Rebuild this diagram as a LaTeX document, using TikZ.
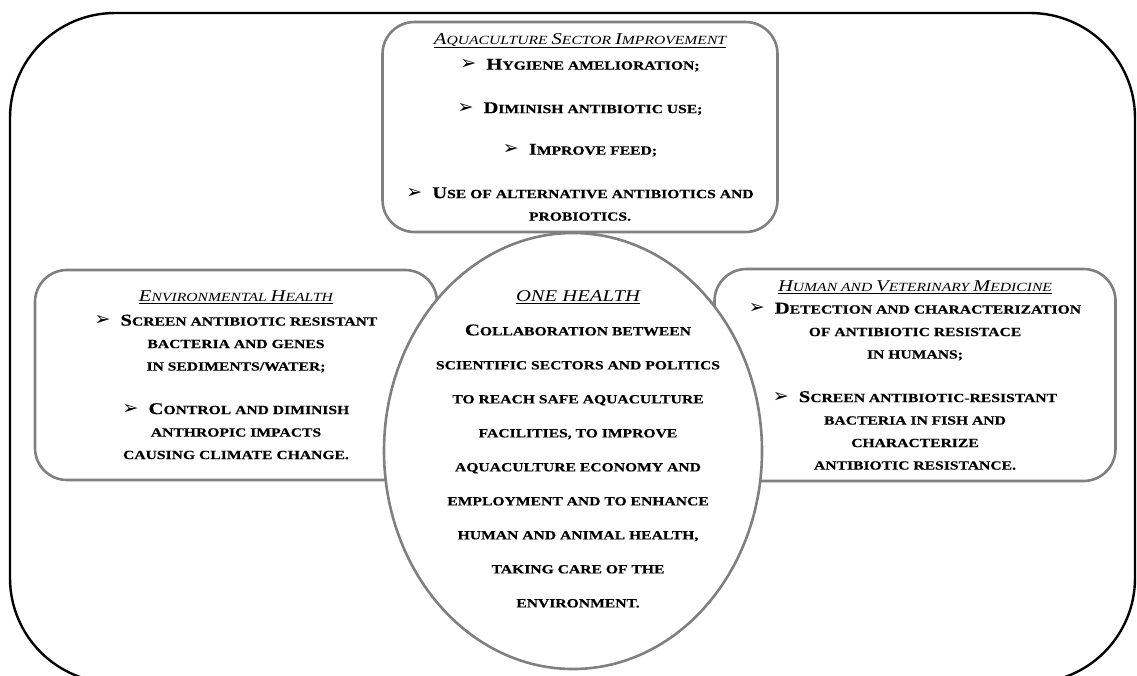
\documentclass[tikz,border=0pt]{standalone}
\usepackage{fontspec}
\setmainfont{Liberation Serif}[FakeStretch=1.25, BoldFeatures={FakeBold=0.4}]
\newfontfamily\dingfont{DejaVu Sans}
\usetikzlibrary{shapes.geometric}
\definecolor{panelgray}{RGB}{128,128,128}
\newcommand\capinit[1]{{\fontsize{16.5}{16.5}\selectfont #1}}
\newcommand\itemarrow{\smash{\dingfont\fontsize{19}{19}\selectfont ➢}\hspace{10pt}}
\newcommand\paneltitle[1]{\underline{\normalfont\itshape #1}}

\begin{document}
\begin{tikzpicture}[
  x=1pt, y=-1pt,
  panel/.style={
    draw=panelgray,
    line width=2.6pt,
    rounded corners=32pt,
    fill=white,
    align=center,
    inner sep=0pt,
    font=\fontsize{12.5}{22.5}\selectfont\bfseries
  },
  hub/.style={
    ellipse,
    draw=panelgray,
    line width=2.6pt,
    fill=white,
    inner sep=0pt
  },
  hubtext/.style={
    align=center,
    inner sep=0pt,
    font=\fontsize{12.5}{22.5}\selectfont\bfseries
  }
]
\useasboundingbox (0,0) rectangle (1137,675);
\draw[line width=2.4pt, rounded corners=105pt] (10,13) rectangle (1135,683);

\node[panel, minimum width=402pt, minimum height=210pt] (envhealth) at (236,375) {%
  \paneltitle{\capinit{E}NVIRONMENTAL \capinit{H}EALTH}\\[1.5pt]
  \itemarrow\capinit{S}CREEN ANTIBIOTIC RESISTANT\\
  BACTERIA AND GENES\\
  IN SEDIMENTS/WATER;\\[21pt]
  \itemarrow\capinit{C}ONTROL AND DIMINISH\\
  ANTHROPIC IMPACTS\\
  CAUSING CLIMATE CHANGE.};
\node[panel, minimum width=401pt, minimum height=212pt] (medicine) at (915,375) {%
  \paneltitle{\capinit{H}UMAN AND \capinit{V}ETERINARY \capinit{M}EDICINE}\\
  \itemarrow\capinit{D}ETECTION AND CHARACTERIZATION\\
  OF ANTIBIOTIC RESISTACE\\
  IN HUMANS;\\[21pt]
  \itemarrow\capinit{S}CREEN ANTIBIOTIC-RESISTANT\\
  BACTERIA IN FISH AND\\
  CHARACTERIZE\\
  ANTIBIOTIC RESISTANCE.};
\node[hub, minimum width=378pt, minimum height=436pt] (onehealth) at (573,451) {};
\node[hubtext] (onehealthtext) at (578,449) {%
  \paneltitle{\fontsize{16.5}{16.5}\selectfont ONE HEALTH}\\[11.5pt]
  \capinit{C}OLLABORATION BETWEEN\\[11.5pt]
  SCIENTIFIC SECTORS AND POLITICS\\[11.5pt]
  TO REACH SAFE AQUACULTURE\\[11.5pt]
  FACILITIES, TO IMPROVE\\[11.5pt]
  AQUACULTURE ECONOMY AND\\[11.5pt]
  EMPLOYMENT AND TO ENHANCE\\[11.5pt]
  HUMAN AND ANIMAL HEALTH,\\[11.5pt]
  TAKING CARE OF THE\\[11.5pt]
  ENVIRONMENT.};
\node[panel, minimum width=395pt, minimum height=210pt] (aquaculture) at (580,127) {%
  \paneltitle{\capinit{A}QUACULTURE \capinit{S}ECTOR \capinit{I}MPROVEMENT}\\[3pt]
  \itemarrow\capinit{H}YGIENE AMELIORATION;\\[21pt]
  \itemarrow\capinit{D}IMINISH ANTIBIOTIC USE;\\[19pt]
  \itemarrow\capinit{I}MPROVE FEED;\\[21pt]
  \itemarrow\capinit{U}SE OF ALTERNATIVE ANTIBIOTICS AND\\
  PROBIOTICS.};
\end{tikzpicture}
\end{document}
